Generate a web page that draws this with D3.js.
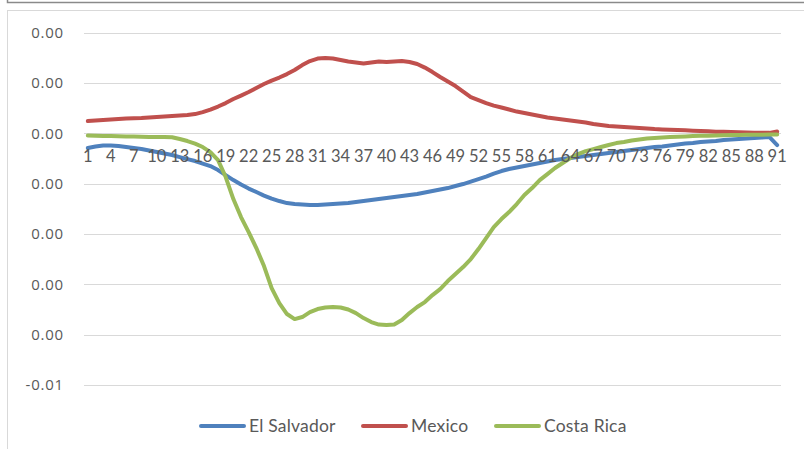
<!DOCTYPE html>
<html>
<head>
<meta charset="utf-8">
<script src="https://cdn.jsdelivr.net/npm/d3@7"></script>
<style>
  html, body { margin: 0; padding: 0; background: #fff; }
  svg { display: block; }
</style>
</head>
<body>
<svg id="chart" width="804" height="449"></svg>
<script>
// Periods 1..91
const categories = d3.range(1, 92);

const elSalvador = [
  -0.000292, -0.000262, -0.000242, -0.000242, -0.000252, -0.000272, -0.000292, -0.000312, -0.000342, -0.000372,
  -0.000401, -0.000431, -0.000471, -0.000511, -0.000550, -0.000600, -0.000650, -0.000729, -0.000829, -0.000928,
  -0.001017, -0.001097, -0.001166, -0.001236, -0.001296, -0.001345, -0.001385, -0.001405, -0.001415, -0.001425,
  -0.001425, -0.001415, -0.001405, -0.001395, -0.001385, -0.001365, -0.001345, -0.001325, -0.001305, -0.001286,
  -0.001266, -0.001246, -0.001226, -0.001206, -0.001176, -0.001147, -0.001117, -0.001087, -0.001047, -0.001007,
  -0.000958, -0.000908, -0.000858, -0.000799, -0.000749, -0.000709, -0.000680, -0.000650, -0.000620, -0.000590,
  -0.000560, -0.000531, -0.000511, -0.000491, -0.000471, -0.000451, -0.000431, -0.000411, -0.000391, -0.000372,
  -0.000352, -0.000332, -0.000312, -0.000292, -0.000272, -0.000262, -0.000242, -0.000223, -0.000203, -0.000193,
  -0.000173, -0.000163, -0.000153, -0.000133, -0.000123, -0.000113, -0.000103, -0.000093, -0.000083, -0.000074,
  -0.000232
];

const mexico = [
  0.000244, 0.000254, 0.000264, 0.000274, 0.000284, 0.000294, 0.000298, 0.000304, 0.000314, 0.000324,
  0.000334, 0.000344, 0.000354, 0.000364, 0.000383, 0.000423, 0.000473, 0.000533, 0.000602, 0.000682,
  0.000751, 0.000821, 0.000900, 0.000980, 0.001049, 0.001109, 0.001178, 0.001258, 0.001357, 0.001437,
  0.001486, 0.001496, 0.001486, 0.001456, 0.001427, 0.001407, 0.001387, 0.001407, 0.001427, 0.001417,
  0.001427, 0.001437, 0.001417, 0.001377, 0.001307, 0.001218, 0.001119, 0.001029, 0.000940, 0.000831,
  0.000721, 0.000662, 0.000602, 0.000552, 0.000513, 0.000473, 0.000433, 0.000403, 0.000374, 0.000344,
  0.000314, 0.000294, 0.000274, 0.000254, 0.000234, 0.000215, 0.000185, 0.000165, 0.000145, 0.000135,
  0.000125, 0.000115, 0.000105, 0.000095, 0.000085, 0.000079, 0.000074, 0.000066, 0.000060, 0.000054,
  0.000046, 0.000040, 0.000034, 0.000030, 0.000026, 0.000022, 0.000018, 0.000014, 0.000012, 0.000010,
  0.000036
];

const costaRica = [
  -0.000044, -0.000048, -0.000054, -0.000054, -0.000058, -0.000062, -0.000064, -0.000068, -0.000074, -0.000074,
  -0.000074, -0.000077, -0.000113, -0.000153, -0.000203, -0.000272, -0.000372, -0.000531, -0.000868, -0.001305,
  -0.001663, -0.001961, -0.002279, -0.002637, -0.003074, -0.003372, -0.003590, -0.003690, -0.003650, -0.003551,
  -0.003491, -0.003461, -0.003451, -0.003461, -0.003501, -0.003571, -0.003670, -0.003749, -0.003799, -0.003809,
  -0.003799, -0.003710, -0.003571, -0.003451, -0.003352, -0.003213, -0.003094, -0.002935, -0.002796, -0.002657,
  -0.002498, -0.002299, -0.002080, -0.001862, -0.001703, -0.001564, -0.001405, -0.001226, -0.001087, -0.000928,
  -0.000809, -0.000689, -0.000590, -0.000491, -0.000411, -0.000352, -0.000312, -0.000272, -0.000232, -0.000193,
  -0.000173, -0.000143, -0.000123, -0.000103, -0.000093, -0.000083, -0.000074, -0.000066, -0.000060, -0.000054,
  -0.000050, -0.000046, -0.000042, -0.000038, -0.000034, -0.000032, -0.000030, -0.000028, -0.000026, -0.000024,
  -0.000024
];

const seriesNames = ["El Salvador", "Mexico", "Costa Rica"];
const seriesColors = ["#4F81BD", "#C0504D", "#9BBB59"];

// Value axis ticks and their printed labels (two-decimal format)
const yTicks = [0.002, 0.001, 0, -0.001, -0.002, -0.003, -0.004, -0.005];
const yTickLabels = ["0.00", "0.00", "0.00", "0.00", "0.00", "0.00", "0.00", "-0.01"];

// Category labels shown every third period
const xTickLabels = categories.filter((d, i) => i % 3 === 0);

const series = [elSalvador, mexico, costaRica].map((vals, k) => ({
  name: seriesNames[k],
  color: seriesColors[k],
  values: vals.map((v, i) => ({ cat: categories[i], v }))
}));

const svg = d3.select("#chart");
const plot = { left: 84, right: 781, top: 32.7, bottom: 385 };

// Frame lines
svg.append("path")
  .attr("d", "M7.5,0 V2.5 H804")
  .attr("fill", "none").attr("stroke", "#8a8a8a").attr("stroke-width", 1.5);
svg.append("rect")
  .attr("x", 7.5).attr("y", 10.5).attr("width", 820).attr("height", 460)
  .attr("fill", "#fff").attr("stroke", "#d9d9d9").attr("stroke-width", 1);

const x = d3.scaleBand().domain(categories).range([plot.left, plot.right]);
const xc = d => x(d) + x.bandwidth() / 2;
const y = d3.scaleLinear().domain([-0.005, 0.002]).range([plot.bottom, plot.top]);

// Gridlines
svg.append("g").selectAll("line").data(yTicks).join("line")
  .attr("x1", plot.left).attr("x2", plot.right)
  .attr("y1", d => Math.round(y(d)) + 0.5).attr("y2", d => Math.round(y(d)) + 0.5)
  .attr("stroke", "#d9d9d9").attr("stroke-width", 1);

// Value axis
const yAxis = svg.append("g")
  .attr("transform", `translate(${plot.left},0)`)
  .call(d3.axisLeft(y).tickValues(yTicks).tickSize(0).tickPadding(20)
    .tickFormat((d, i) => yTickLabels[i]));
yAxis.select(".domain").remove();
yAxis.selectAll("text")
  .attr("font-family", "'Open Sans', 'Liberation Sans', sans-serif")
  .attr("font-size", 15).attr("letter-spacing", 0.8)
  .attr("fill", "#595959");

// Lines
const line = d3.line().x(d => xc(d.cat)).y(d => y(d.v));
svg.append("g").selectAll("path").data(series).join("path")
  .attr("d", d => line(d.values))
  .attr("fill", "none")
  .attr("stroke", d => d.color)
  .attr("stroke-width", 4)
  .attr("stroke-linejoin", "round")
  .attr("stroke-linecap", "round");

// Category axis, labels sitting at the zero line
const xAxis = svg.append("g")
  .attr("transform", `translate(0,${y(0)})`)
  .call(d3.axisBottom(x).tickValues(xTickLabels).tickSize(0).tickPadding(17));
xAxis.select(".domain").remove();
xAxis.selectAll("text")
  .attr("font-family", "Lato, 'Open Sans', sans-serif")
  .attr("font-size", 16.5)
  .attr("fill", "#595959");

// Legend
const legendItems = [
  { name: seriesNames[0], color: seriesColors[0], x: 200 },
  { name: seriesNames[1], color: seriesColors[1], x: 362 },
  { name: seriesNames[2], color: seriesColors[2], x: 495 }
];
const lg = svg.append("g").selectAll("g").data(legendItems).join("g")
  .attr("transform", d => `translate(${d.x},426)`);
lg.append("line")
  .attr("x1", 1).attr("x2", 44).attr("y1", 0).attr("y2", 0)
  .attr("stroke", d => d.color).attr("stroke-width", 4).attr("stroke-linecap", "round");
lg.append("text")
  .attr("x", 49).attr("y", 0).attr("dy", "0.36em")
  .attr("font-family", "Lato, 'Open Sans', sans-serif")
  .attr("font-size", 17.5).attr("letter-spacing", 0.2).attr("fill", "#595959")
  .text(d => d.name);
</script>
</body>
</html>
